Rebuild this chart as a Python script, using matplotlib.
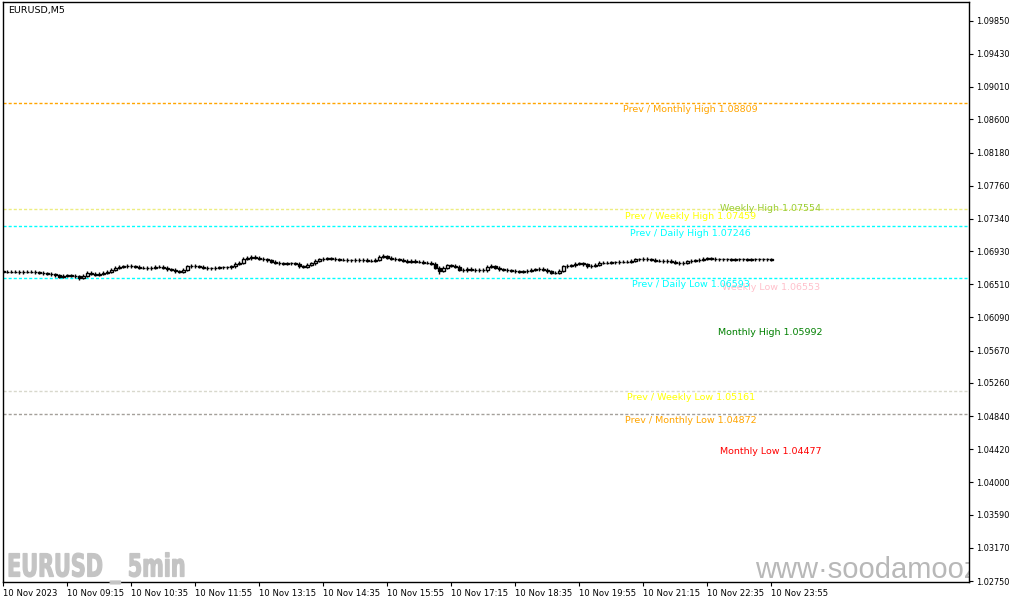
import matplotlib
matplotlib.use("Agg")
import matplotlib.pyplot as plt
import numpy as np
from matplotlib.textpath import TextPath
from matplotlib.patches import PathPatch
from matplotlib.font_manager import FontProperties
from matplotlib.transforms import Affine2D, IdentityTransform

# EURUSD M5 candles, 10 Nov 2023
opens = [
    1.06675, 1.06669, 1.06668, 1.06670, 1.06669, 1.06665, 1.06668, 1.06670, 1.06669, 1.06663,
    1.06656, 1.06650, 1.06644, 1.06637, 1.06625, 1.06606, 1.06618, 1.06625, 1.06618, 1.06612,
    1.06593, 1.06618, 1.06656, 1.06644, 1.06631, 1.06644, 1.06656, 1.06669, 1.06694, 1.06720,
    1.06732, 1.06739, 1.06745, 1.06739, 1.06732, 1.06720, 1.06720, 1.06713, 1.06720, 1.06732,
    1.06732, 1.06720, 1.06701, 1.06694, 1.06675, 1.06669, 1.06694, 1.06739, 1.06745, 1.06739,
    1.06732, 1.06720, 1.06713, 1.06713, 1.06720, 1.06726, 1.06726, 1.06726, 1.06739, 1.06770,
    1.06783, 1.06834, 1.06840, 1.06859, 1.06846, 1.06834, 1.06827, 1.06815, 1.06796, 1.06783,
    1.06777, 1.06770, 1.06777, 1.06777, 1.06770, 1.06739, 1.06732, 1.06758, 1.06777, 1.06808,
    1.06827, 1.06834, 1.06840, 1.06834, 1.06827, 1.06821, 1.06821, 1.06815, 1.06815, 1.06821,
    1.06815, 1.06821, 1.06808, 1.06808, 1.06821, 1.06859, 1.06865, 1.06846, 1.06834, 1.06827,
    1.06821, 1.06808, 1.06796, 1.06808, 1.06796, 1.06796, 1.06783, 1.06783, 1.06770, 1.06720,
    1.06682, 1.06720, 1.06751, 1.06745, 1.06732, 1.06694, 1.06688, 1.06707, 1.06694, 1.06688,
    1.06694, 1.06688, 1.06732, 1.06739, 1.06720, 1.06701, 1.06694, 1.06688, 1.06682, 1.06675,
    1.06669, 1.06675, 1.06682, 1.06694, 1.06701, 1.06707, 1.06694, 1.06675, 1.06656, 1.06656,
    1.06682, 1.06739, 1.06745, 1.06751, 1.06770, 1.06777, 1.06764, 1.06739, 1.06745, 1.06758,
    1.06783, 1.06783, 1.06783, 1.06789, 1.06789, 1.06796, 1.06796, 1.06796, 1.06808, 1.06827,
    1.06827, 1.06834, 1.06827, 1.06821, 1.06808, 1.06808, 1.06802, 1.06808, 1.06796, 1.06783,
    1.06777, 1.06783, 1.06802, 1.06808, 1.06815, 1.06821, 1.06834, 1.06840, 1.06834, 1.06827,
    1.06827, 1.06827, 1.06827, 1.06821, 1.06827, 1.06827, 1.06827, 1.06821, 1.06827, 1.06827,
    1.06827, 1.06827, 1.06827,
]
highs = [
    1.06695, 1.06689, 1.06690, 1.06690, 1.06689, 1.06688, 1.06690, 1.06690, 1.06689, 1.06683,
    1.06676, 1.06670, 1.06664, 1.06657, 1.06645, 1.06638, 1.06645, 1.06645, 1.06638, 1.06632,
    1.06638, 1.06676, 1.06676, 1.06664, 1.06664, 1.06676, 1.06689, 1.06714, 1.06740, 1.06752,
    1.06759, 1.06765, 1.06765, 1.06759, 1.06752, 1.06740, 1.06740, 1.06740, 1.06752, 1.06752,
    1.06752, 1.06740, 1.06721, 1.06714, 1.06695, 1.06714, 1.06759, 1.06765, 1.06765, 1.06759,
    1.06752, 1.06740, 1.06733, 1.06740, 1.06746, 1.06746, 1.06746, 1.06759, 1.06790, 1.06803,
    1.06854, 1.06866, 1.06879, 1.06879, 1.06866, 1.06854, 1.06847, 1.06835, 1.06816, 1.06803,
    1.06797, 1.06797, 1.06797, 1.06797, 1.06790, 1.06759, 1.06778, 1.06797, 1.06828, 1.06847,
    1.06854, 1.06860, 1.06860, 1.06854, 1.06847, 1.06841, 1.06841, 1.06835, 1.06841, 1.06841,
    1.06841, 1.06841, 1.06828, 1.06841, 1.06879, 1.06891, 1.06885, 1.06866, 1.06854, 1.06847,
    1.06841, 1.06828, 1.06828, 1.06828, 1.06816, 1.06816, 1.06803, 1.06803, 1.06790, 1.06740,
    1.06740, 1.06771, 1.06771, 1.06765, 1.06752, 1.06714, 1.06727, 1.06727, 1.06714, 1.06714,
    1.06714, 1.06752, 1.06765, 1.06759, 1.06740, 1.06721, 1.06714, 1.06708, 1.06702, 1.06695,
    1.06695, 1.06702, 1.06714, 1.06721, 1.06727, 1.06727, 1.06714, 1.06695, 1.06676, 1.06702,
    1.06759, 1.06765, 1.06771, 1.06790, 1.06797, 1.06797, 1.06784, 1.06765, 1.06778, 1.06803,
    1.06803, 1.06803, 1.06809, 1.06809, 1.06816, 1.06816, 1.06816, 1.06828, 1.06847, 1.06847,
    1.06854, 1.06854, 1.06847, 1.06841, 1.06828, 1.06828, 1.06828, 1.06828, 1.06816, 1.06803,
    1.06803, 1.06822, 1.06828, 1.06835, 1.06841, 1.06854, 1.06860, 1.06860, 1.06854, 1.06847,
    1.06847, 1.06847, 1.06847, 1.06847, 1.06847, 1.06847, 1.06847, 1.06847, 1.06847, 1.06847,
    1.06847, 1.06847, 1.06847,
]
lows = [
    1.06649, 1.06648, 1.06648, 1.06649, 1.06645, 1.06645, 1.06648, 1.06649, 1.06643, 1.06636,
    1.06630, 1.06624, 1.06617, 1.06605, 1.06586, 1.06586, 1.06598, 1.06598, 1.06592, 1.06562,
    1.06573, 1.06598, 1.06624, 1.06611, 1.06611, 1.06624, 1.06636, 1.06649, 1.06674, 1.06700,
    1.06712, 1.06719, 1.06719, 1.06712, 1.06700, 1.06700, 1.06693, 1.06693, 1.06700, 1.06712,
    1.06700, 1.06681, 1.06674, 1.06655, 1.06649, 1.06649, 1.06674, 1.06719, 1.06719, 1.06712,
    1.06700, 1.06693, 1.06693, 1.06693, 1.06700, 1.06706, 1.06706, 1.06706, 1.06719, 1.06750,
    1.06763, 1.06814, 1.06820, 1.06826, 1.06814, 1.06807, 1.06795, 1.06776, 1.06763, 1.06757,
    1.06750, 1.06750, 1.06757, 1.06750, 1.06719, 1.06712, 1.06712, 1.06738, 1.06757, 1.06788,
    1.06807, 1.06814, 1.06814, 1.06807, 1.06801, 1.06801, 1.06795, 1.06795, 1.06795, 1.06795,
    1.06795, 1.06788, 1.06788, 1.06788, 1.06801, 1.06839, 1.06826, 1.06814, 1.06807, 1.06801,
    1.06788, 1.06776, 1.06776, 1.06776, 1.06776, 1.06763, 1.06763, 1.06750, 1.06700, 1.06637,
    1.06662, 1.06700, 1.06725, 1.06712, 1.06674, 1.06668, 1.06668, 1.06674, 1.06668, 1.06668,
    1.06668, 1.06668, 1.06712, 1.06700, 1.06681, 1.06674, 1.06668, 1.06662, 1.06655, 1.06649,
    1.06649, 1.06655, 1.06662, 1.06674, 1.06681, 1.06674, 1.06655, 1.06636, 1.06636, 1.06636,
    1.06662, 1.06719, 1.06725, 1.06731, 1.06750, 1.06744, 1.06719, 1.06719, 1.06725, 1.06738,
    1.06763, 1.06763, 1.06763, 1.06769, 1.06769, 1.06776, 1.06776, 1.06776, 1.06788, 1.06807,
    1.06807, 1.06807, 1.06801, 1.06788, 1.06788, 1.06782, 1.06782, 1.06776, 1.06763, 1.06757,
    1.06757, 1.06763, 1.06782, 1.06788, 1.06795, 1.06801, 1.06814, 1.06814, 1.06807, 1.06807,
    1.06807, 1.06807, 1.06801, 1.06801, 1.06807, 1.06807, 1.06801, 1.06801, 1.06807, 1.06807,
    1.06807, 1.06807, 1.06801,
]
closes = [
    1.06669, 1.06668, 1.06670, 1.06669, 1.06665, 1.06668, 1.06670, 1.06669, 1.06663, 1.06656,
    1.06650, 1.06644, 1.06637, 1.06625, 1.06606, 1.06618, 1.06625, 1.06618, 1.06612, 1.06593,
    1.06618, 1.06656, 1.06644, 1.06631, 1.06644, 1.06656, 1.06669, 1.06694, 1.06720, 1.06732,
    1.06739, 1.06745, 1.06739, 1.06732, 1.06720, 1.06720, 1.06713, 1.06720, 1.06732, 1.06732,
    1.06720, 1.06701, 1.06694, 1.06675, 1.06669, 1.06694, 1.06739, 1.06745, 1.06739, 1.06732,
    1.06720, 1.06713, 1.06713, 1.06720, 1.06726, 1.06726, 1.06726, 1.06739, 1.06770, 1.06783,
    1.06834, 1.06840, 1.06859, 1.06846, 1.06834, 1.06827, 1.06815, 1.06796, 1.06783, 1.06777,
    1.06770, 1.06777, 1.06777, 1.06770, 1.06739, 1.06732, 1.06758, 1.06777, 1.06808, 1.06827,
    1.06834, 1.06840, 1.06834, 1.06827, 1.06821, 1.06821, 1.06815, 1.06815, 1.06821, 1.06815,
    1.06821, 1.06808, 1.06808, 1.06821, 1.06859, 1.06865, 1.06846, 1.06834, 1.06827, 1.06821,
    1.06808, 1.06796, 1.06808, 1.06796, 1.06796, 1.06783, 1.06783, 1.06770, 1.06720, 1.06682,
    1.06720, 1.06751, 1.06745, 1.06732, 1.06694, 1.06688, 1.06707, 1.06694, 1.06688, 1.06694,
    1.06688, 1.06732, 1.06739, 1.06720, 1.06701, 1.06694, 1.06688, 1.06682, 1.06675, 1.06669,
    1.06675, 1.06682, 1.06694, 1.06701, 1.06707, 1.06694, 1.06675, 1.06656, 1.06656, 1.06682,
    1.06739, 1.06745, 1.06751, 1.06770, 1.06777, 1.06764, 1.06739, 1.06745, 1.06758, 1.06783,
    1.06783, 1.06783, 1.06789, 1.06789, 1.06796, 1.06796, 1.06796, 1.06808, 1.06827, 1.06827,
    1.06834, 1.06827, 1.06821, 1.06808, 1.06808, 1.06802, 1.06808, 1.06796, 1.06783, 1.06777,
    1.06783, 1.06802, 1.06808, 1.06815, 1.06821, 1.06834, 1.06840, 1.06834, 1.06827, 1.06827,
    1.06827, 1.06827, 1.06821, 1.06827, 1.06827, 1.06827, 1.06821, 1.06827, 1.06827, 1.06827,
    1.06827, 1.06827, 1.06821,
]

# time labels (one every 16 bars)
time_tick_bars = [0, 16, 32, 48, 64, 80, 96, 112, 128, 144, 160, 176, 192]
time_tick_labels = ["10 Nov 2023", "10 Nov 09:15", "10 Nov 10:35", "10 Nov 11:55",
                    "10 Nov 13:15", "10 Nov 14:35", "10 Nov 15:55", "10 Nov 17:15",
                    "10 Nov 18:35", "10 Nov 19:55", "10 Nov 21:15", "10 Nov 22:35",
                    "10 Nov 23:55"]
price_ticks = [1.09850, 1.09430, 1.09010, 1.08600, 1.08180, 1.07760, 1.07340, 1.06930,
               1.06510, 1.06090, 1.05670, 1.05260, 1.04840, 1.04420, 1.04000, 1.03590,
               1.03170, 1.02750]

# previous period levels (drawn with a dashed line)
prev_names = ["Prev / Monthly High", "Prev / Weekly High", "Prev / Daily High",
              "Prev / Daily Low", "Prev / Weekly Low", "Prev / Monthly Low"]
prev_values = [1.08809, 1.07459, 1.07246, 1.06593, 1.05161, 1.04872]
prev_text_colors = ["#ffa500", "#ffff00", "#00ffff", "#00ffff", "#ffff00", "#ffa500"]
prev_line_colors = ["#ffa500", "#ecec80", "#00ffff", "#00ffff", "#d8d8cc", "#a4a09a"]

# current period levels (label only)
cur_names = ["Weekly High", "Weekly Low", "Monthly High", "Monthly Low"]
cur_values = [1.07554, 1.06553, 1.05992, 1.04477]
cur_colors = ["#9acd32", "#ffc0cb", "#008000", "#ff0000"]

fig = plt.figure(figsize=(10.15, 6.05), dpi=100)
ax = fig.add_axes([3 / 1015, 23 / 605, 966 / 1015, 580 / 605])

o = np.array(opens)
h = np.array(highs)
l = np.array(lows)
c = np.array(closes)
x = np.arange(len(c))

# wicks then bodies (white = up, black = down)
ax.vlines(x, l, h, color="black", lw=1.0, zorder=3)
up = c >= o
body_lo = np.minimum(o, c)
body_h = np.abs(c - o)
ax.bar(x[up], body_h[up], bottom=body_lo[up], width=0.7, facecolor="white",
       edgecolor="black", linewidth=1.0, zorder=4)
ax.bar(x[~up], body_h[~up], bottom=body_lo[~up], width=0.7, facecolor="black",
       edgecolor="black", linewidth=1.0, zorder=4)

for val, lc in zip(prev_values, prev_line_colors):
    ax.axhline(val, color=lc, lw=1.0, ls=(0, (2.2, 1.5)), zorder=2)

for name, val, col in zip(cur_names, cur_values, cur_colors):
    ax.annotate(f"{name} {val:.5f}", (191.8, val), xytext=(0, -7), textcoords="offset pixels",
                ha="center", va="center", color=col, fontsize=6.8, zorder=5)

for name, val, tc in zip(prev_names, prev_values, prev_text_colors):
    ax.annotate(f"{name} {val:.5f}", (171.8, val), xytext=(0, -7), textcoords="offset pixels",
                ha="center", va="center", color=tc, fontsize=6.8, zorder=6)

ax.set_xlim(-0.1, 241.4)
ax.set_ylim(1.02738, 1.10087)

ax.yaxis.tick_right()
ax.set_yticks(price_ticks)
ax.set_yticklabels([f"{p:.5f}" for p in price_ticks])
ax.set_xticks(time_tick_bars)
ax.set_xticklabels(time_tick_labels, ha="left")
ax.tick_params(axis="x", labelsize=6.1, length=3, width=0.8, pad=2, colors="black")
ax.tick_params(axis="y", labelsize=5.9, length=3, width=0.8, pad=2, colors="black")

for sp in ax.spines.values():
    sp.set_linewidth(1.0)
    sp.set_color("black")

# title
ax.text(5 / 966, 1 - 8 / 580, "EURUSD,M5", transform=ax.transAxes, fontsize=6.8,
        ha="left", va="center", color="black")

# condensed bold watermark, bottom left (squeezed text path)
wm_path = TextPath((0, 0), "EURUSD _ 5min", size=31.5,
                   prop=FontProperties(family="DejaVu Sans", weight="bold"))
bb = wm_path.get_extents()
sx = 175 / bb.width
wm = PathPatch(wm_path, facecolor="#c4c4c4", edgecolor="#c4c4c4", linewidth=0.9,
               transform=Affine2D().scale(sx, 1.0).translate(9 - bb.x0 * sx, 605 - 576.5)
               + IdentityTransform())
fig.add_artist(wm)

# site watermark, bottom right, clipped by the price axis
ax.text((755 - 3) / 966, 4 / 580, "www\u00b7soodamooz.com", transform=ax.transAxes,
        fontsize=21, family=["Liberation Sans", "DejaVu Sans"], color="#b8b8b8",
        va="baseline", ha="left", clip_on=True, zorder=1)

fig.savefig("out.png", dpi=100, facecolor="white")
